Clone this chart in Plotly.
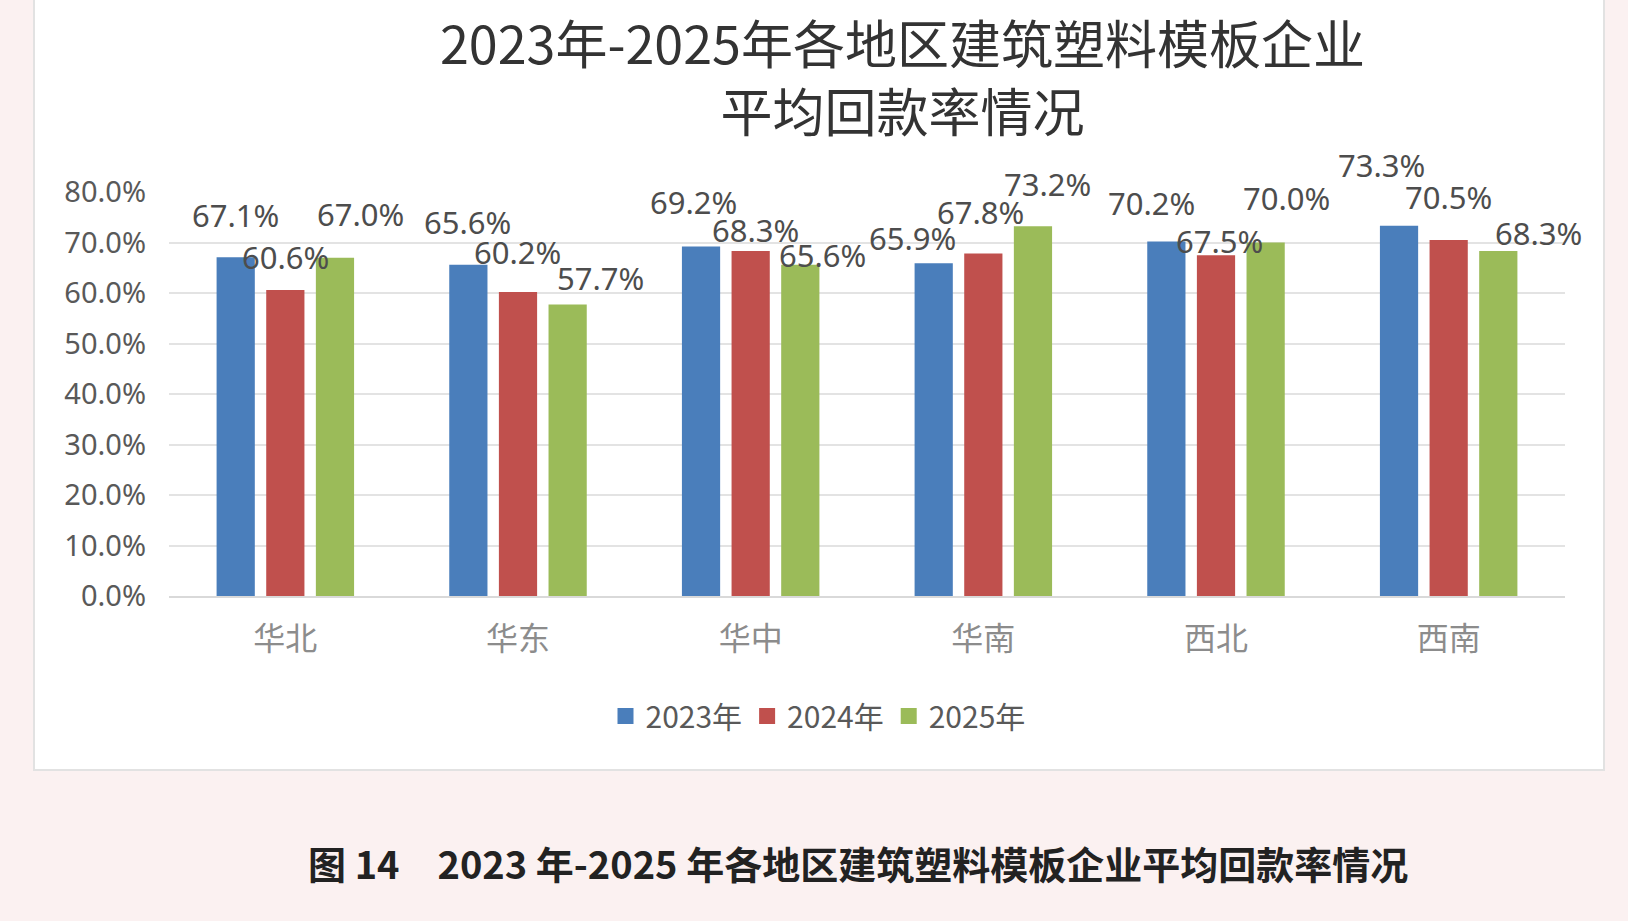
import plotly.graph_objects as go

regions = ["华北", "华东", "华中", "华南", "西北", "西南"]
series_names = ["2023年", "2024年", "2025年"]
v2023 = [67.1, 65.6, 69.2, 65.9, 70.2, 73.3]
v2024 = [60.6, 60.2, 68.3, 67.8, 67.5, 70.5]
v2025 = [67.0, 57.7, 65.6, 73.2, 70.0, 68.3]
colors = ["#4A7EBB", "#C0504D", "#9BBB59"]

# label placement styling (pixel nudges as in the original chart)
label_dx = [[0, -1, -8, -21, -15, -18],
            [0, -1, 5, -3, 3, 0],
            [26, 33, 22, 15, 21, 40]]
label_dy = [[42, 43, 45, 25, 38, 61],
            [33, 40, 21, 42, 14, 43],
            [44, 27, 10, 42, 45, 18]]

title_text = "2023年-2025年各地区建筑塑料模板企业<br>平均回款率情况"
caption = "图 14　2023 年-2025 年各地区建筑塑料模板企业平均回款率情况"

W, H = 1628, 921
L, R, T, B = 169, 63, 192, 325
pw, ph = W - L - R, H - T - B
BARGAP, GROUPGAP = 0.36, 0.23

def px(x):
    return (x - L) / pw

def py(y):
    return (H - B - y) / ph

fig = go.Figure()
series = [v2023, v2024, v2025]
for name, vals, col in zip(series_names, series, colors):
    fig.add_trace(go.Bar(x=regions, y=vals, name=name, marker_color=col,
                         marker_line_width=0, legendgroup=name, showlegend=False))
for name, col in zip(series_names, colors):
    fig.add_trace(go.Scatter(x=[None], y=[None], mode="markers", name=name,
                             legendgroup=name, showlegend=True,
                             marker=dict(symbol="square", size=20, color=col)))

slot = pw / len(regions) * (1 - BARGAP) / len(series)
annotations = []
for i, vals in enumerate(series):
    for j, (reg, v) in enumerate(zip(regions, vals)):
        annotations.append(dict(
            x=reg, y=v, xref="x", yref="y", text=f"{v:.1f}%", showarrow=False,
            xanchor="center", yanchor="middle",
            xshift=(i - 1) * slot + label_dx[i][j], yshift=label_dy[i][j],
            font=dict(size=31, color="#4D4D4D", family="Noto Sans")))

annotations += [
    dict(text=title_text, xref="paper", yref="paper", x=px(903), y=py(76),
         xanchor="center", yanchor="middle", showarrow=False,
         font=dict(size=52, color="#333333", family="Noto Sans CJK SC")),
    dict(text="<b>" + caption + "</b>", xref="paper", yref="paper", x=px(858), y=py(862),
         xanchor="center", yanchor="middle", showarrow=False,
         font=dict(size=38, color="#222222", family="Noto Sans CJK SC")),
]

fig.update_layout(
    width=W, height=H,
    margin=dict(l=L, r=R, t=T, b=B),
    paper_bgcolor="#FBF1F1",
    plot_bgcolor="rgba(0,0,0,0)",
    barmode="group", bargap=BARGAP, bargroupgap=GROUPGAP,
    font=dict(family="Noto Sans CJK SC", color="#595959"),
    showlegend=True,
    legend=dict(orientation="h", x=px(818), y=py(716), xanchor="center", yanchor="middle",
                font=dict(size=30, color="#595959", family="Noto Sans CJK SC"),
                bgcolor="rgba(0,0,0,0)", itemwidth=30, traceorder="normal",
                itemsizing="trace"),
    xaxis=dict(type="category", range=[-0.5, len(regions) - 0.5],
               showgrid=False, showline=True, linecolor="#D9D9D9", linewidth=2,
               tickfont=dict(size=32, color="#8C8C8C", family="Noto Sans CJK SC"),
               ticks="", ticklabelstandoff=14),
    yaxis=dict(range=[0, 80], dtick=10, tickformat=".1f", ticksuffix="%",
               showgrid=True, gridcolor="#E3E3E3", gridwidth=2, zeroline=False,
               tickfont=dict(size=29, color="#595959", family="Noto Sans"),
               ticks="", ticklabelstandoff=22),
    shapes=[dict(type="rect", xref="paper", yref="paper",
                 x0=px(34), x1=px(1604), y0=py(770), y1=py(-5),
                 fillcolor="white", line=dict(color="#E2E2E2", width=2), layer="below")],
    annotations=annotations,
)

fig.write_html("out.html")
